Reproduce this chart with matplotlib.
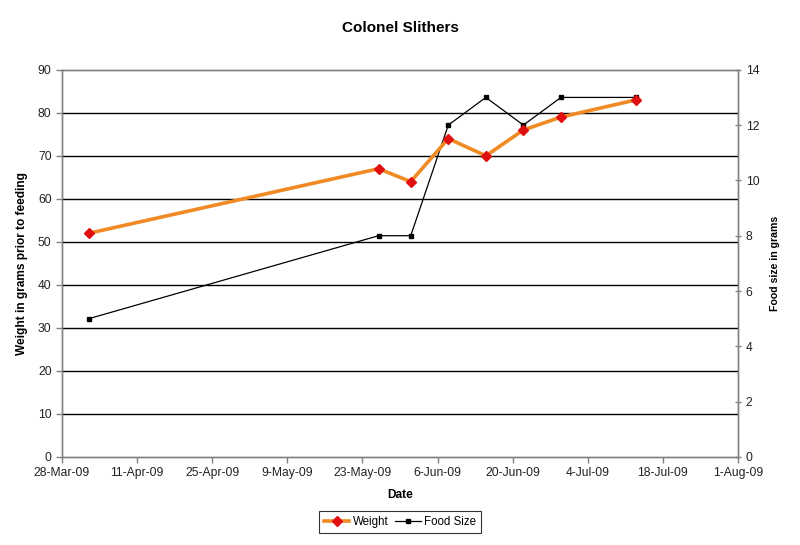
import matplotlib
matplotlib.use("Agg")
import matplotlib.pyplot as plt
import matplotlib.dates as mdates
from matplotlib.lines import Line2D
import datetime as dt

plt.rcParams['font.family'] = ['Liberation Sans', 'DejaVu Sans']

dates = ["2009-04-02", "2009-05-26", "2009-06-01", "2009-06-08",
         "2009-06-15", "2009-06-22", "2009-06-29", "2009-07-13"]
weight = [52, 67, 64, 74, 70, 76, 79, 83]
food_size = [5, 8, 8, 12, 13, 12, 13, 13]
x_ticks = ["2009-03-28", "2009-04-11", "2009-04-25", "2009-05-09", "2009-05-23",
           "2009-06-06", "2009-06-20", "2009-07-04", "2009-07-18", "2009-08-01"]

d = [dt.datetime.strptime(s, "%Y-%m-%d") for s in dates]
xt = [dt.datetime.strptime(s, "%Y-%m-%d") for s in x_ticks]

fig = plt.figure(figsize=(8, 5.45), dpi=100)
ax = fig.add_axes([0.0775, 0.1615, 0.845, 0.7105])
ax2 = ax.twinx()

grey = "#808080"
ax.set_ylim(0, 90)
ax.set_yticks(range(0, 91, 10))
ax.set_xlim(xt[0], xt[-1])
ax.set_xticks(xt)
ax.xaxis.set_major_formatter(mdates.DateFormatter("%-d-%b-%y"))
for y in range(10, 90, 10):
    ax.axhline(y, color="black", lw=1.0, zorder=1)

ax2.set_ylim(0, 14)
ax2.set_yticks(range(0, 15, 2))

for a in (ax, ax2):
    for s in a.spines.values():
        s.set_color(grey)
        s.set_linewidth(1.0)
ax.tick_params(axis='both', colors=grey, labelcolor="#222222", labelsize=8.7, length=4, width=1)
ax2.tick_params(axis='y', colors=grey, labelcolor="#222222", labelsize=8.7, length=4, width=1, direction='inout')

ax2.plot(d, food_size, color="black", lw=0.9, marker="s", ms=2.3, zorder=3)
ax.plot(d, weight, color="#F08A24", lw=2.6, marker="D", ms=5.5, mfc="#E01010", mec="#E01010", zorder=4)
ax.set_zorder(ax2.get_zorder() + 1)
ax.patch.set_visible(False)

ax.set_ylabel("Weight in grams prior to feeding", fontsize=8.6, fontweight="bold", labelpad=7)
ax2.set_ylabel("Food size in grams", fontsize=7.6, fontweight="bold", labelpad=8)
ax.set_xlabel("Date", fontsize=8.6, fontweight="bold", labelpad=7)
fig.text(0.5, 0.948, "Colonel Slithers", ha="center", va="center", fontsize=11, fontweight="bold")

handles = [Line2D([], [], color="#F08A24", lw=2.6, marker="D", ms=5, mfc="#E01010", mec="#E01010"),
           Line2D([], [], color="black", lw=0.9, marker="s", ms=2.3)]
leg = fig.legend(handles, ["Weight", "Food Size"], loc="center", bbox_to_anchor=(0.5, 0.042),
                 ncol=2, fontsize=8.3, frameon=True, fancybox=False, edgecolor="black",
                 handlelength=2.2, handletextpad=0.3, columnspacing=0.6, borderpad=0.4)
leg.get_frame().set_linewidth(0.8)

fig.savefig("out.png", dpi=100, facecolor="white")
